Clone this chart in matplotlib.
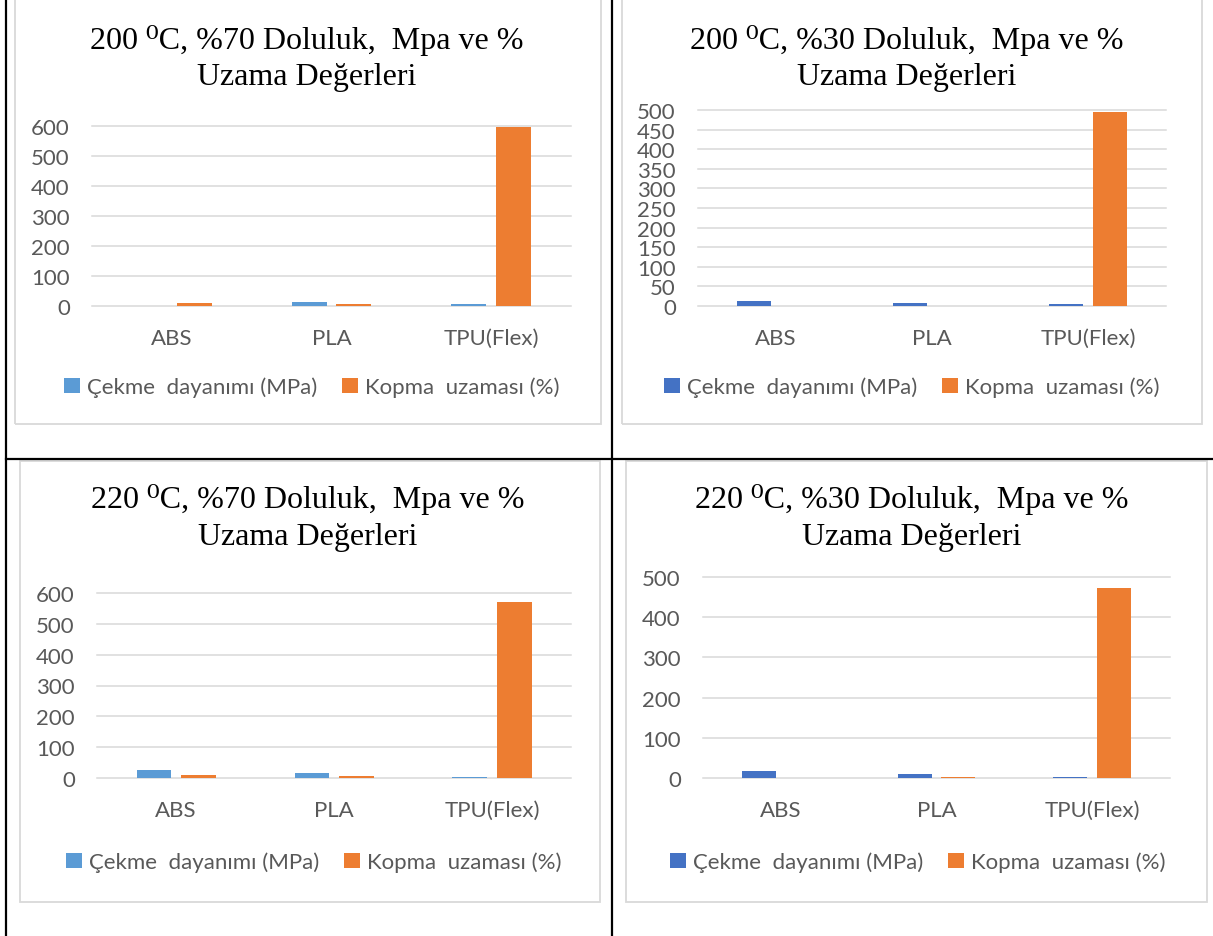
import matplotlib
matplotlib.use("Agg")
import matplotlib.pyplot as plt
from matplotlib.patches import Rectangle
from matplotlib.lines import Line2D
import numpy as np

W, H = 1213, 937

categories = ["ABS", "PLA", "TPU(Flex)"]
series_names = ["Çekme  dayanımı (MPa)", "Kopma  uzaması (%)"]

titles = [
    ("200 ⁰C, %70 Doluluk,  Mpa ve %", "Uzama Değerleri"),
    ("200 ⁰C, %30 Doluluk,  Mpa ve %", "Uzama Değerleri"),
    ("220 ⁰C, %70 Doluluk,  Mpa ve %", "Uzama Değerleri"),
    ("220 ⁰C, %30 Doluluk,  Mpa ve %", "Uzama Değerleri"),
]

# values
cekme_200_70 = [0, 13, 7]
kopma_200_70 = [10, 8, 595]
cekme_200_30 = [13, 8, 4]
kopma_200_30 = [0, 0, 495]
cekme_220_70 = [26, 16, 4.5]
kopma_220_70 = [11, 8, 570]
cekme_220_30 = [16.5, 10, 2.5]
kopma_220_30 = [0, 2.5, 473]

yticks_600 = [0, 100, 200, 300, 400, 500, 600]
yticks_500_50 = list(range(0, 501, 50))
yticks_500 = [0, 100, 200, 300, 400, 500]

LIGHT_BLUE = "#5B9BD5"
DARK_BLUE = "#4472C4"
ORANGE = "#ED7D31"
GRID = "#D9D9D9"
TXT = "#595959"

# panel layout in pixels: plot box, chart border, title centre/y, legend centre
panels = [
    dict(plot=(92, 127, 571, 307), border=(15, -5, 601, 425), tx=307, ty=(40, 77),
         leg=(312, 388), blue=LIGHT_BLUE, data=(cekme_200_70, kopma_200_70),
         ymax=600, yticks=yticks_600),
    dict(plot=(698, 111, 1166, 307), border=(622, -5, 1202, 425), tx=907, ty=(40, 77),
         leg=(912, 388), blue=DARK_BLUE, data=(cekme_200_30, kopma_200_30),
         ymax=500, yticks=yticks_500_50),
    dict(plot=(97, 594, 571, 779), border=(20, 462, 600, 903), tx=308, ty=(500, 537),
         leg=(314, 863), blue=LIGHT_BLUE, data=(cekme_220_70, kopma_220_70),
         ymax=600, yticks=yticks_600),
    dict(plot=(703, 578, 1170, 779), border=(626, 462, 1207, 903), tx=912, ty=(500, 537),
         leg=(918, 863), blue=DARK_BLUE, data=(cekme_220_30, kopma_220_30),
         ymax=500, yticks=yticks_500),
]


def fx(x):
    return x / W


def fy(y):
    return 1 - y / H


fig = plt.figure(figsize=(W / 100, H / 100), dpi=100)

sans = ["Lato", "DejaVu Sans"]
serif = ["Liberation Serif", "DejaVu Serif"]

for i, p in enumerate(panels):
    bx0, by0, bx1, by1 = p["border"]
    fig.patches.append(Rectangle((fx(bx0), fy(by1)), fx(bx1 - bx0), (by1 - by0) / H,
                                 transform=fig.transFigure, facecolor="none",
                                 edgecolor=GRID, linewidth=1.3, zorder=-1))

    x0, y0, x1, y1 = p["plot"]
    ax = fig.add_axes([fx(x0), fy(y1), fx(x1 - x0), (y1 - y0) / H])
    x = np.arange(len(categories))
    w = 0.22
    b1 = ax.bar(x - 0.14, p["data"][0], w, color=p["blue"], label=series_names[0])
    b2 = ax.bar(x + 0.14, p["data"][1], w, color=ORANGE, label=series_names[1])
    ax.set_xlim(-0.5, 2.5)
    ax.set_ylim(0, p["ymax"])
    ax.set_yticks(p["yticks"])
    ax.set_xticks(x)
    ax.set_xticklabels(categories)
    ax.yaxis.grid(True, color=GRID, linewidth=1.1, clip_on=False)
    ax.set_axisbelow(True)
    for s in ax.spines.values():
        s.set_visible(False)
    ax.tick_params(axis="y", length=0, pad=16, labelsize=16, labelcolor=TXT)
    ax.tick_params(axis="x", length=0, pad=16, labelsize=16, labelcolor=TXT)
    for lab in ax.get_xticklabels() + ax.get_yticklabels():
        lab.set_family(sans)
    ax.patch.set_alpha(0)

    fig.text(fx(p["tx"]), fy(p["ty"][0]), titles[i][0], ha="center", va="center",
             fontsize=23, family=serif, color="black")
    fig.text(fx(p["tx"]), fy(p["ty"][1]), titles[i][1], ha="center", va="center",
             fontsize=23, family=serif, color="black")

    fig.legend(handles=[b1, b2], loc="center", bbox_to_anchor=(fx(p["leg"][0]), fy(p["leg"][1])),
               ncol=2, frameon=False, prop={"family": sans, "size": 16},
               labelcolor=TXT, handlelength=0.7, handleheight=0.7,
               handletextpad=0.35, columnspacing=1.1, borderpad=0)

# table lines
for (xa, ya, xb, yb) in [(6, 0, 6, H), (612, 0, 612, H), (6, 460, W, 460)]:
    fig.add_artist(Line2D([fx(xa), fx(xb)], [fy(ya), fy(yb)], transform=fig.transFigure,
                          color="black", linewidth=1.6))

fig.savefig("out.png", dpi=100)
